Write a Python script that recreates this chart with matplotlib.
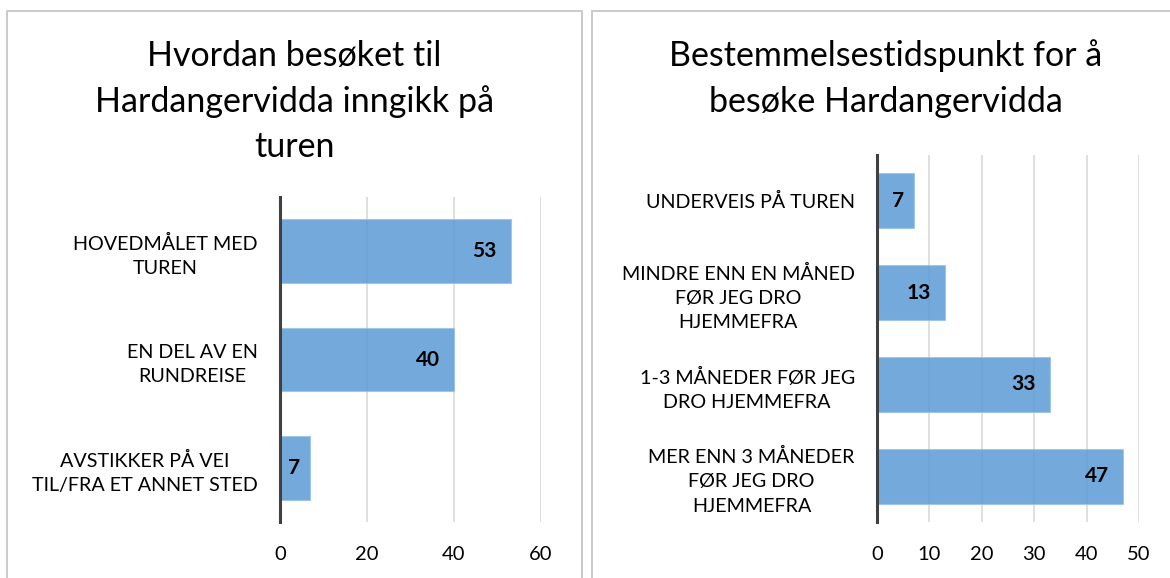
import matplotlib
matplotlib.use("Agg")
import matplotlib.pyplot as plt
from matplotlib.patches import Rectangle

plt.rcParams['font.family'] = ['Lato', 'DejaVu Sans']

# left chart
left_title = ["Hvordan besøket til", "Hardangervidda inngikk på", "turen"]
left_cats = ["HOVEDMÅLET MED\nTUREN", "EN DEL AV EN\nRUNDREISE", "AVSTIKKER PÅ VEI\nTIL/FRA ET ANNET STED"]
left_vals = [53, 40, 7]
left_ticks = [0, 20, 40, 60]

# right chart
right_title = ["Bestemmelsestidspunkt for å", "besøke Hardangervidda"]
right_cats = ["UNDERVEIS PÅ TUREN", "MINDRE ENN EN MÅNED\nFØR JEG DRO\nHJEMMEFRA",
              "1-3 MÅNEDER FØR JEG\nDRO HJEMMEFRA", "MER ENN 3 MÅNEDER\nFØR JEG DRO\nHJEMMEFRA"]
right_vals = [7, 13, 33, 47]
right_ticks = [0, 10, 20, 30, 40, 50]

W, H = 1170, 578
fig = plt.figure(figsize=(W / 100, H / 100), dpi=100)

def px(x0, y_top, x1, y_bot):
    return [x0 / W, 1 - y_bot / H, (x1 - x0) / W, (y_bot - y_top) / H]

# panel borders
for x0, x1 in [(7, 582), (592, 1200)]:
    fig.patches.append(Rectangle((x0 / W, -0.1), (x1 - x0) / W, 1.1 - 11 / H,
                                 transform=fig.transFigure, fill=False,
                                 edgecolor='#C6C6C6', lw=1.3))

def bar_panel(rect, cats, vals, ticks, title, title_x, bar_h):
    ax = fig.add_axes(rect)
    ypos = range(len(cats))
    ax.barh(ypos, vals, height=bar_h, color='#5B9BD5', alpha=0.85,
            edgecolor='#9DC3E6', lw=0.8, zorder=3)
    ax.set_ylim(len(cats) - 0.5, -0.5)
    ax.set_xlim(ticks[0], ticks[-1])
    ax.set_xticks(ticks)
    ax.set_yticks(list(ypos))
    ax.set_yticklabels(cats, fontsize=14.2, linespacing=1.52)
    for t in ax.get_yticklabels():
        t.set_multialignment('center')
    ax.tick_params(axis='x', labelsize=14.5, length=0, pad=17)
    ax.tick_params(axis='y', length=0, pad=16)
    ax.grid(axis='x', color='#D9D9D9', lw=1.2, zorder=0)
    for s in ['top', 'right', 'bottom']:
        ax.spines[s].set_visible(False)
    ax.spines['left'].set_color('#404040')
    ax.spines['left'].set_linewidth(2.2)
    ax.spines['left'].set_zorder(4)
    # value labels at the inside end of each bar
    for y, v in zip(ypos, vals):
        off = 6 + 4 * len(str(v))
        ax.annotate(str(v), (v, y), xytext=(-off, 0), textcoords='offset pixels',
                    ha='right', va='center', fontsize=15, fontweight='bold', zorder=5)
    for i, line in enumerate(title):
        fig.text(title_x / W, 1 - (66 + 45.5 * i) / H, line, ha='center',
                 va='baseline', fontsize=24.5)
    return ax

bar_panel(px(280, 197, 541, 522), left_cats, left_vals, left_ticks, left_title, 294.5, 0.59)
bar_panel(px(877, 155, 1139, 522), right_cats, right_vals, right_ticks, right_title, 886, 0.6)

fig.savefig("out.png", dpi=100)
